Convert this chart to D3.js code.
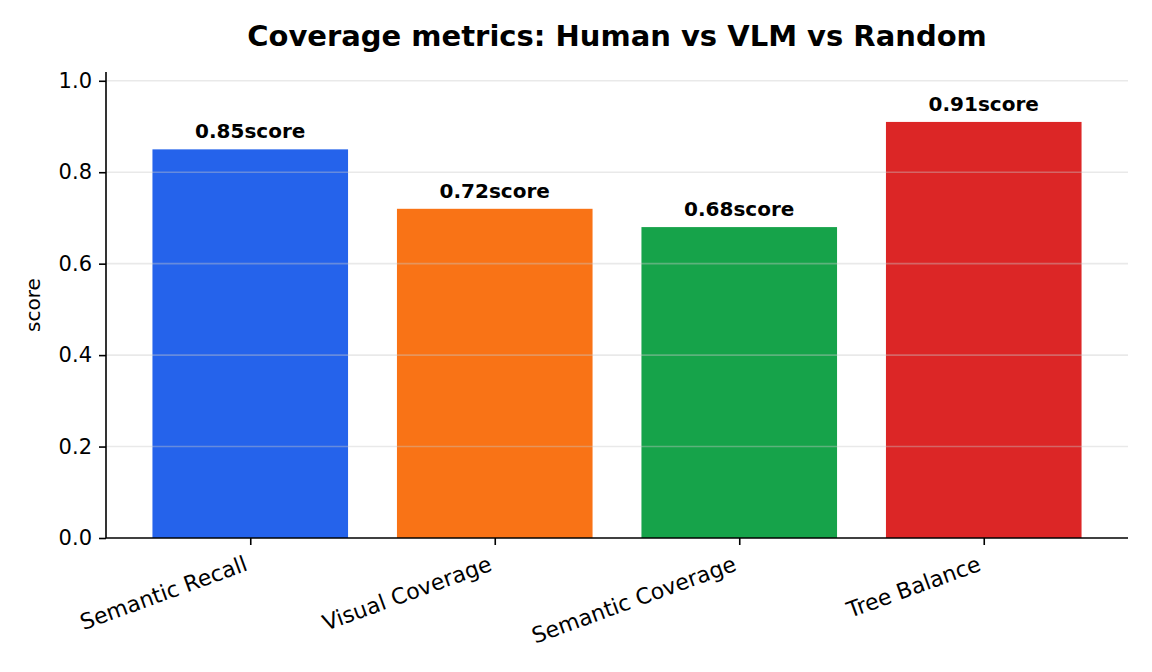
<!DOCTYPE html>
<html>
<head>
<meta charset="utf-8">
<script src="https://cdn.jsdelivr.net/npm/d3@7"></script>
<style>
  body { margin: 0; background: #fff; }
  svg { font-family: "DejaVu Sans", sans-serif; }
</style>
</head>
<body>
<div id="chart"></div>
<script>
const categories = ["Semantic Recall", "Visual Coverage", "Semantic Coverage", "Tree Balance"];
const values = [0.85, 0.72, 0.68, 0.91];
const colors = ["#2563eb", "#f97316", "#16a34a", "#dc2626"];
const yTicks = [0.0, 0.2, 0.4, 0.6, 0.8, 1.0];
const title = "Coverage metrics: Human vs VLM vs Random";
const yLabel = "score";
const unit = "score";

const width = 1152, height = 672;
const margin = {top: 72, right: 24, bottom: 134, left: 106};
const innerWidth = width - margin.left - margin.right;
const innerHeight = height - margin.top - margin.bottom;

const svg = d3.select("#chart").append("svg")
    .attr("width", width)
    .attr("height", height);

const chart = svg.append("g")
    .attr("transform", `translate(${margin.left}, ${margin.top})`);

// matplotlib-like bar positions: index with 0.8 width and 5% margins
const x = d3.scaleLinear()
    .domain([-0.59, categories.length - 1 + 0.59])
    .range([0, innerWidth]);
const barW = x(0.4) - x(-0.4);

const y = d3.scaleLinear()
    .domain([0, d3.max(values) * 1.12])
    .range([innerHeight, 0]);

chart.selectAll("rect.bar")
    .data(values)
    .enter().append("rect")
    .attr("class", "bar")
    .attr("x", (d, i) => x(i) - barW / 2)
    .attr("y", d => y(d))
    .attr("width", barW)
    .attr("height", d => innerHeight - y(d))
    .style("fill", (d, i) => colors[i]);

// grid sits above the bars, semi transparent
chart.append("g")
    .selectAll("line")
    .data(yTicks.filter(t => t > 0))
    .enter().append("line")
    .attr("x1", 0)
    .attr("x2", innerWidth)
    .attr("y1", d => y(d))
    .attr("y2", d => y(d))
    .style("stroke", "#c8c8c8")
    .style("stroke-opacity", 0.4)
    .style("stroke-width", 1.6);

chart.selectAll("text.value")
    .data(values)
    .enter().append("text")
    .attr("class", "value")
    .attr("x", (d, i) => x(i))
    .attr("y", d => y(d) - 11)
    .attr("text-anchor", "middle")
    .style("font-size", "20px")
    .style("font-weight", "bold")
    .text(d => d.toFixed(2) + unit);

const yAxis = d3.axisLeft(y)
    .tickValues(yTicks)
    .tickFormat(d3.format(".1f"))
    .tickSize(7)
    .tickPadding(7);

const xAxis = d3.axisBottom(x)
    .tickValues(d3.range(categories.length))
    .tickFormat(i => categories[i])
    .tickSize(7)
    .tickPadding(7);

const gy = chart.append("g").attr("class", "axis").call(yAxis);
const gx = chart.append("g").attr("class", "axis")
    .attr("transform", `translate(0, ${innerHeight})`)
    .call(xAxis);

chart.selectAll(".axis path, .axis line")
    .style("stroke", "#000")
    .style("stroke-width", 1.6);
chart.selectAll(".axis text")
    .style("font-family", "DejaVu Sans, sans-serif")
    .style("font-size", "21px")
    .style("fill", "#000");
// drop the outer tick caps of the domain path
gy.select(".domain").attr("d", `M0,${innerHeight}V0`);
gx.select(".domain").attr("d", `M0,0H${innerWidth}`);

gx.selectAll(".tick text")
    .style("font-size", "22px")
    .attr("text-anchor", "end")
    .attr("dy", "0")
    .attr("y", 0)
    .attr("transform", "translate(-2, 32) rotate(-20)");

chart.append("text")
    .attr("transform", `translate(-66, ${innerHeight / 2}) rotate(-90)`)
    .attr("text-anchor", "middle")
    .style("font-size", "20px")
    .text(yLabel);

svg.append("text")
    .attr("x", margin.left + innerWidth / 2)
    .attr("y", 46)
    .attr("text-anchor", "middle")
    .style("font-size", "29px")
    .style("font-weight", "bold")
    .text(title);
</script>
</body>
</html>
